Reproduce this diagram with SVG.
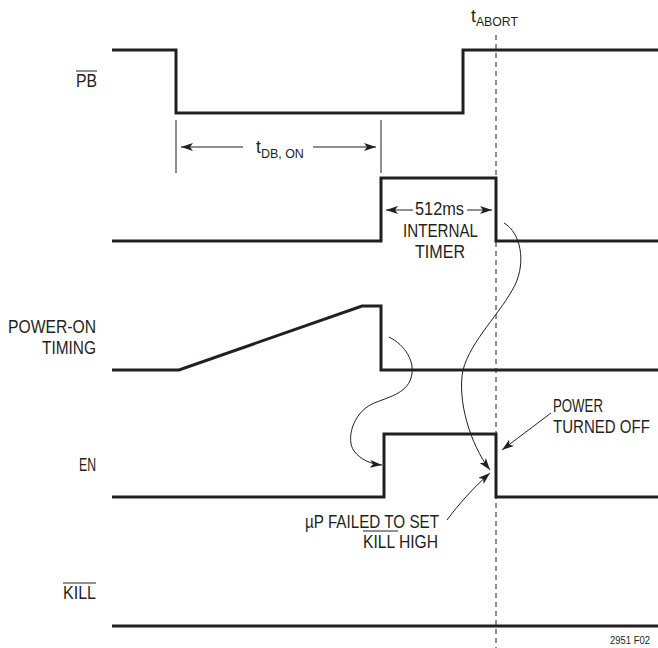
<svg xmlns="http://www.w3.org/2000/svg" width="658" height="648" viewBox="0 0 658 648">
<style>
.sig{fill:none;stroke:#231f20;stroke-width:3;stroke-linejoin:miter;stroke-linecap:butt}
.thin{fill:none;stroke:#231f20;stroke-width:1}
.dash{fill:none;stroke:#231f20;stroke-width:1;stroke-dasharray:5 4}
.t{font-family:"Liberation Sans Narrow","Liberation Sans",Arial,sans-serif;font-size:17.5px;fill:#231f20}
.s{font-size:13px}
.r{text-anchor:end}
</style>
<defs>
<marker id="ah" viewBox="0 0 12 8" refX="12" refY="4" markerWidth="12" markerHeight="8" markerUnits="userSpaceOnUse" orient="auto">
<path d="M0,0 L12,4 L0,8 L3,4 Z" fill="#231f20"/>
</marker>
</defs>
<rect width="658" height="648" fill="#ffffff"/>
<g id="guide">
<line class="dash" x1="496" y1="35" x2="496" y2="648"/>
</g>
<g id="sig-pb">
<path class="sig" d="M112,50 H176 V113 H463 V50 H658"/>
<text class="t" x="76" y="87" textLength="21" lengthAdjust="spacingAndGlyphs">PB</text>
<line class="thin" x1="76" y1="71" x2="97" y2="71"/>
</g>
<g id="sig-timer">
<path class="sig" d="M112,241 H381 V178 H496 V241 H658"/>
</g>
<g id="sig-poweron">
<path class="sig" d="M112,370 H179 L362,306 H381 V370 H658"/>
<text class="t r" x="96" y="333" textLength="88" lengthAdjust="spacingAndGlyphs">POWER-ON</text>
<text class="t r" x="96" y="354" textLength="54" lengthAdjust="spacingAndGlyphs">TIMING</text>
</g>
<g id="sig-en">
<path class="sig" d="M112,497 H384 V434 H496 V497 H658"/>
<text class="t r" x="96" y="471" textLength="17" lengthAdjust="spacingAndGlyphs">EN</text>
</g>
<g id="sig-kill">
<path class="sig" d="M112,626 H658"/>
<text class="t" x="63" y="599" textLength="33" lengthAdjust="spacingAndGlyphs">KILL</text>
<line class="thin" x1="63" y1="583" x2="96" y2="583"/>
</g>
<g id="label-tabort">
<text class="t" x="471" y="22">t<tspan class="s" dy="4" textLength="42" lengthAdjust="spacingAndGlyphs">ABORT</tspan></text>
</g>
<g id="label-tdb">
<text class="t" x="256" y="153">t<tspan class="s" dy="5" textLength="43" lengthAdjust="spacingAndGlyphs">DB, ON</tspan></text>
</g>
<g id="label-timer">
<text class="t" x="415" y="215" textLength="49" lengthAdjust="spacingAndGlyphs">512ms</text>
<text class="t" x="403" y="237" textLength="75" lengthAdjust="spacingAndGlyphs">INTERNAL</text>
<text class="t" x="415" y="258" textLength="50" lengthAdjust="spacingAndGlyphs">TIMER</text>
</g>
<g id="label-poweroff">
<text class="t" x="553" y="412" textLength="50" lengthAdjust="spacingAndGlyphs">POWER</text>
<text class="t" transform="translate(553,433) scale(0.86,1)">TURNED OFF</text>
</g>
<g id="label-failed">
<text class="t" x="305" y="528" textLength="134" lengthAdjust="spacingAndGlyphs">µP FAILED TO SET</text>
<text class="t" x="363" y="548" textLength="75" lengthAdjust="spacingAndGlyphs">KILL HIGH</text>
<line class="thin" x1="363" y1="531" x2="398" y2="531"/>
</g>
<g id="fig-id">
<text class="t" x="610" y="644" style="font-size:10.5px" textLength="40" lengthAdjust="spacingAndGlyphs">2951 F02</text>
</g>
<g id="connectors">
<line class="thin" x1="176" y1="120" x2="176" y2="173"/>
<line class="thin" x1="381" y1="120" x2="381" y2="173"/>
<line class="thin" x1="243" y1="147" x2="181" y2="147" marker-end="url(#ah)"/>
<line class="thin" x1="313" y1="147" x2="376" y2="147" marker-end="url(#ah)"/>
<line class="thin" x1="413" y1="210" x2="386" y2="210" marker-end="url(#ah)"/>
<line class="thin" x1="467" y1="210" x2="492" y2="210" marker-end="url(#ah)"/>
<path class="thin" d="M389,337 C405,345 416,362 411,378 C406,394 388,397 372,404 C352,414 346,440 354,451 C361,460 371,464 382,465" marker-end="url(#ah)"/>
<path class="thin" d="M504,223 C521,233 526,262 515,285 C501,313 471,340 463,370 C457,400 470,444 490,470" marker-end="url(#ah)"/>
<path class="thin" d="M551,413 L502,450" marker-end="url(#ah)"/>
<path class="thin" d="M447,520 C458,505 474,487 490,473" marker-end="url(#ah)"/>
</g>
</svg>
